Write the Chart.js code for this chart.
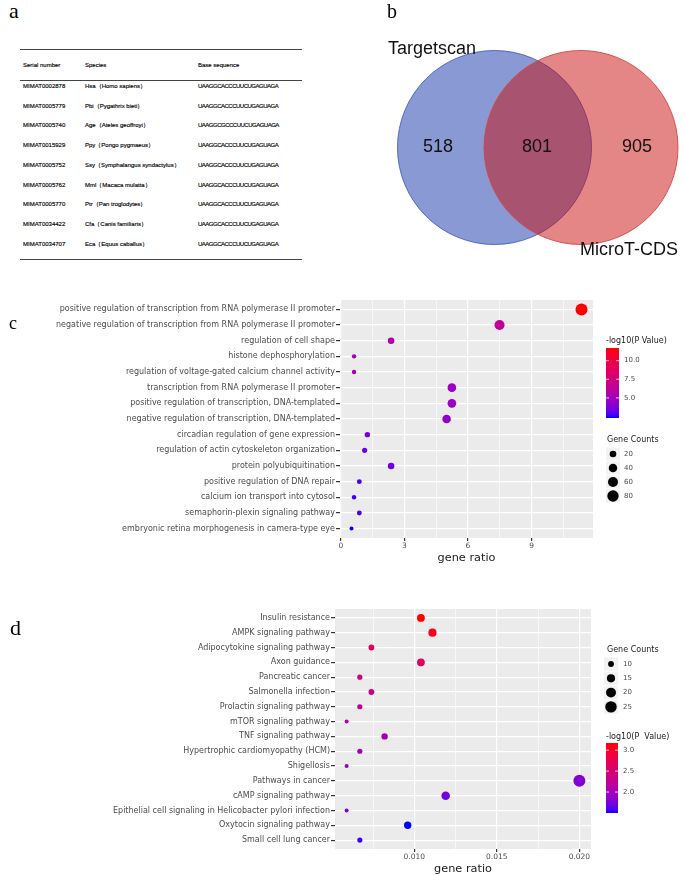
<!DOCTYPE html>
<html>
<head>
<meta charset="utf-8">
<title>miR target prediction and enrichment</title>
<script src="https://cdn.jsdelivr.net/npm/chart.js@4.4.1/dist/chart.umd.min.js"></script>
<style>
  html, body { margin: 0; padding: 0; background: #fff; }
  #page { position: relative; width: 685px; height: 876px; overflow: hidden; }
  canvas { position: absolute; }
  .tag { position: absolute; font-family: "Liberation Serif", serif; line-height: 1; color: #000; }
  .rule { position: absolute; left: 20px; width: 282px; height: 1.4px; background: #444; }
  .cell { position: absolute; font-family: "Liberation Sans", sans-serif; font-size: 6px; line-height: 8px; color: #000; white-space: nowrap; -webkit-text-stroke: 0.15px #000; }
  .cell.seq { letter-spacing: -0.5px; }
</style>
</head>
<body>
<div id="page">
  <div id="table"></div>
  <canvas id="venn" width="355" height="290" style="left:330px;top:0"></canvas>
  <canvas id="goChart" width="685" height="275" style="left:0;top:290px"></canvas>
  <canvas id="keggChart" width="685" height="276" style="left:0;top:600px"></canvas>
  <div class="tag" style="left:9px;top:0px;font-size:22px">a</div>
  <div class="tag" style="left:387px;top:1px;font-size:20px">b</div>
  <div class="tag" style="left:9px;top:314px;font-size:18px">c</div>
  <div class="tag" style="left:10px;top:617px;font-size:22px">d</div>
</div>
<script>
// ---- panel a: table ----
const tableHeader = ["Serial number", "Species", "Base sequence"];
const serialNumbers = ["MIMAT0002878", "MIMAT0005779", "MIMAT0005740", "MIMAT0015929", "MIMAT0005752",
  "MIMAT0005762", "MIMAT0005770", "MIMAT0034422", "MIMAT0034707"];
const speciesNames = ["Hsa（Homo sapiens）", "Pbi（Pygathrix bieti）", "Age（Ateles geoffroyi）",
  "Ppy（Pongo pygmaeus）", "Ssy（Symphalangus syndactylus）", "Mml（Macaca mulatta）",
  "Ptr（Pan troglodytes）", "Cfa（Canis familiaris）", "Eca（Equus caballus）"];
const baseSequences = ["UAAGGCACCCUUCUGAGUAGA", "UAAGGCACCCUUCUGAGUAGA", "UAAGGCGCCCUUCUGAGUAGA",
  "UAAGGCACCCUUCUGAGUAGA", "UAAGGCACCCUUCUGAGUAGA", "UAAGGCACCCUUCUGAGUAGA",
  "UAAGGCACCCUUCUGAGUAGA", "UAAGGCACCCUUCUGAGUAGA", "UAAGGCACCCUUCUGAGUAGA"];

// ---- panel b: venn ----
const vennSets = ["Targetscan", "MicroT-CDS"];
const vennCounts = [518, 801, 905]; // Targetscan only, both, MicroT-CDS only

// ---- panel c: GO biological process ----
const goTerms = [
  "positive regulation of transcription from RNA polymerase II promoter",
  "negative regulation of transcription from RNA polymerase II promoter",
  "regulation of cell shape",
  "histone dephosphorylation",
  "regulation of voltage-gated calcium channel activity",
  "transcription from RNA polymerase II promoter",
  "positive regulation of transcription, DNA-templated",
  "negative regulation of transcription, DNA-templated",
  "circadian regulation of gene expression",
  "regulation of actin cytoskeleton organization",
  "protein polyubiquitination",
  "positive regulation of DNA repair",
  "calcium ion transport into cytosol",
  "semaphorin-plexin signaling pathway",
  "embryonic retina morphogenesis in camera-type eye"
];
const goGeneRatio = [11.36, 7.49, 2.37, 0.62, 0.62, 5.24, 5.24, 4.99, 1.25, 1.12, 2.37, 0.87, 0.62, 0.87, 0.50];
const goGeneCounts = [91, 60, 19, 5, 5, 42, 42, 40, 10, 9, 19, 7, 5, 7, 4];
const goLogP = [11.7, 6.4, 5.4, 5.1, 5.1, 4.7, 4.7, 4.4, 3.5, 3.4, 3.5, 2.7, 2.6, 2.7, 2.3];
const goPBreaks = [5, 7.5, 10];
const goCountBreaks = [20, 40, 60, 80];

// ---- panel d: KEGG ----
const keggTerms = [
  "Insulin resistance",
  "AMPK signaling pathway",
  "Adipocytokine signaling pathway",
  "Axon guidance",
  "Pancreatic cancer",
  "Salmonella infection",
  "Prolactin signaling pathway",
  "mTOR signaling pathway",
  "TNF signaling pathway",
  "Hypertrophic cardiomyopathy (HCM)",
  "Shigellosis",
  "Pathways in cancer",
  "cAMP signaling pathway",
  "Epithelial cell signaling in Helicobacter pylori infection",
  "Oxytocin signaling pathway",
  "Small cell lung cancer"
];
const keggGeneRatio = [0.0104, 0.0111, 0.0074, 0.0104, 0.0067, 0.0074, 0.0067, 0.0059, 0.0082, 0.0067, 0.0059, 0.0200, 0.0119, 0.0059, 0.0096, 0.0067];
const keggGeneCounts = [14, 15, 10, 14, 9, 10, 9, 8, 11, 9, 8, 27, 16, 8, 13, 9];
const keggLogP = [3.17, 3.10, 2.68, 2.66, 2.42, 2.33, 2.22, 2.08, 2.00, 2.00, 1.85, 1.78, 1.72, 1.75, 1.50, 1.55];
const keggPBreaks = [2, 2.5, 3];
const keggCountBreaks = [10, 15, 20, 25];

Chart.defaults.font.family = '"DejaVu Sans", sans-serif';

// table (plain html)
const tbl = document.getElementById("table");
const colX = [23, 85, 198];
function cell(text, x, yMid, extra) {
  const d = document.createElement("div");
  d.className = "cell" + (extra ? " " + extra : "");
  d.textContent = text;
  d.style.left = x + "px";
  d.style.top = (yMid - 4) + "px";
  tbl.appendChild(d);
}
[49, 80, 258.5].forEach(y => {
  const r = document.createElement("div");
  r.className = "rule";
  r.style.top = y + "px";
  tbl.appendChild(r);
});
tableHeader.forEach((h, j) => cell(h, colX[j], 65));
serialNumbers.forEach((s, i) => {
  const y = 86 + i * 19.7;
  cell(s, colX[0], y);
  cell(speciesNames[i], colX[1], y);
  cell(baseSequences[i], colX[2], y, "seq");
});

// colour ramp blue -> red interpolated in CIELAB, like ggplot's gradient
function rgbToLab([r, g, b]) {
  const lin = c => { c /= 255; return c <= 0.04045 ? c / 12.92 : Math.pow((c + 0.055) / 1.055, 2.4); };
  const R = lin(r), G = lin(g), B = lin(b);
  const X = (0.4124 * R + 0.3576 * G + 0.1805 * B) / 0.95047;
  const Y = 0.2126 * R + 0.7152 * G + 0.0722 * B;
  const Z = (0.0193 * R + 0.1192 * G + 0.9505 * B) / 1.08883;
  const f = t => t > 0.008856 ? Math.cbrt(t) : 7.787 * t + 16 / 116;
  return [116 * f(Y) - 16, 500 * (f(X) - f(Y)), 200 * (f(Y) - f(Z))];
}
function labToRgb([L, a, b]) {
  const fy = (L + 16) / 116, fx = fy + a / 500, fz = fy - b / 200;
  const finv = t => t * t * t > 0.008856 ? t * t * t : (t - 16 / 116) / 7.787;
  const X = 0.95047 * finv(fx), Y = finv(fy), Z = 1.08883 * finv(fz);
  const R = 3.2406 * X - 1.5372 * Y - 0.4986 * Z;
  const G = -0.9689 * X + 1.8758 * Y + 0.0415 * Z;
  const B = 0.0557 * X - 0.2040 * Y + 1.0570 * Z;
  const gam = c => {
    c = Math.min(1, Math.max(0, c));
    return Math.round(255 * (c <= 0.0031308 ? 12.92 * c : 1.055 * Math.pow(c, 1 / 2.4) - 0.055));
  };
  return `rgb(${gam(R)},${gam(G)},${gam(B)})`;
}
const LAB_LOW = rgbToLab([0, 0, 255]);
const LAB_HIGH = rgbToLab([255, 0, 0]);
const labRamp = t => labToRgb(LAB_LOW.map((v, k) => v + (LAB_HIGH[k] - v) * t));

const panelBg = {
  id: "panelBg",
  beforeDraw(chart) {
    const { ctx, chartArea: a } = chart;
    ctx.save();
    ctx.fillStyle = "#ebebeb";
    ctx.fillRect(a.left, a.top, a.right - a.left, a.bottom - a.top);
    ctx.restore();
  }
};

// venn diagram
const vennGeom = { centers: [{ x: 164.5, y: 147.5 }, { x: 251, y: 147.5 }], radius: 97 };
const vennTextPos = {
  counts: [{ x: 108, y: 147 }, { x: 207, y: 147 }, { x: 307, y: 147 }],
  sets: [{ x: 58, y: 49 }, { x: 250, y: 250 }]
};
new Chart(document.getElementById("venn"), {
  type: "scatter",
  data: {
    datasets: [{
      data: vennGeom.centers,
      pointRadius: vennGeom.radius,
      pointBackgroundColor: ["rgba(18,52,168,0.5)", "rgba(202,14,14,0.5)"],
      pointBorderColor: ["rgba(70,95,200,0.9)", "rgba(215,70,70,0.9)"],
      pointBorderWidth: 1,
      clip: false
    }]
  },
  options: {
    responsive: false, animation: false, events: [],
    layout: { padding: 0, autoPadding: false },
    plugins: { legend: { display: false }, tooltip: { enabled: false } },
    scales: {
      x: { display: false, min: 0, max: 355 },
      y: { display: false, min: 0, max: 290, reverse: true }
    }
  },
  plugins: [{
    id: "vennText",
    afterDatasetsDraw(chart) {
      const { ctx, scales: { x, y } } = chart;
      ctx.save();
      ctx.fillStyle = "#111";
      ctx.textBaseline = "middle";
      ctx.font = '18px "Liberation Sans"';
      ctx.textAlign = "center";
      vennCounts.forEach((v, i) => {
        const p = vennTextPos.counts[i];
        ctx.fillText(String(v), x.getPixelForValue(p.x), y.getPixelForValue(p.y));
      });
      ctx.textAlign = "left";
      vennSets.forEach((s, i) => {
        const p = vennTextPos.sets[i];
        ctx.fillText(s, x.getPixelForValue(p.x), y.getPixelForValue(p.y));
      });
      ctx.restore();
    }
  }]
});

// ggplot style dot plot
function dotPlot(id, o) {
  const n = o.terms.length;
  const rLo = Math.min(...o.ratio), rHi = Math.max(...o.ratio), pad = (rHi - rLo) * 0.05;
  const pLo = Math.min(...o.logP), pHi = Math.max(...o.logP);
  const cLo = Math.min(...o.counts), cHi = Math.max(...o.counts);
  const colorOf = v => labRamp((v - pLo) / (pHi - pLo));
  const radiusOf = c => 2 + 4 * Math.pow(Math.max(0, (c - cLo) / (cHi - cLo)), 0.65);
  const isMajor = v => v != null && Math.abs(v / o.major - Math.round(v / o.major)) < 1e-6;

  const legend = {
    id: "ggLegend",
    afterDraw(chart) {
      const ctx = chart.ctx;
      ctx.save();
      ctx.textBaseline = "middle";
      ctx.textAlign = "left";
      // colour bar
      const cb = o.colorbar;
      ctx.font = '8px "DejaVu Sans"';
      ctx.fillStyle = "#1a1a1a";
      ctx.fillText(cb.title, cb.x, cb.titleY);
      const grad = ctx.createLinearGradient(0, cb.top + cb.h, 0, cb.top);
      for (let i = 0; i <= 20; i++) grad.addColorStop(i / 20, colorOf(pLo + (pHi - pLo) * i / 20));
      ctx.fillStyle = grad;
      ctx.fillRect(cb.x, cb.top, cb.w, cb.h);
      ctx.font = '7px "DejaVu Sans"';
      o.pBreaks.forEach(v => {
        const yy = cb.top + (pHi - v) / (pHi - pLo) * cb.h;
        ctx.strokeStyle = "#fff";
        ctx.lineWidth = 0.8;
        ctx.beginPath();
        ctx.moveTo(cb.x, yy); ctx.lineTo(cb.x + 3, yy);
        ctx.moveTo(cb.x + cb.w - 3, yy); ctx.lineTo(cb.x + cb.w, yy);
        ctx.stroke();
        ctx.fillStyle = "#4d4d4d";
        ctx.fillText(v.toFixed(1), cb.labelX, yy);
      });
      // point size keys
      const sz = o.sizes;
      ctx.font = '8px "DejaVu Sans"';
      ctx.fillStyle = "#1a1a1a";
      ctx.fillText("Gene Counts", sz.x, sz.titleY);
      ctx.font = '7px "DejaVu Sans"';
      o.countBreaks.forEach((c, i) => {
        const yy = sz.firstY + i * sz.step;
        ctx.fillStyle = "#f2f2f2";
        ctx.fillRect(sz.keyX - 7, yy - sz.step / 2 + 0.5, 14, sz.step - 1);
        ctx.fillStyle = "#000";
        ctx.beginPath();
        ctx.arc(sz.keyX, yy, radiusOf(c), 0, Math.PI * 2);
        ctx.fill();
        ctx.fillStyle = "#4d4d4d";
        ctx.fillText(String(c), sz.labelX, yy);
      });
      ctx.restore();
    }
  };

  return new Chart(document.getElementById(id), {
    type: "scatter",
    data: {
      datasets: [{
        data: o.ratio.map((x, i) => ({ x, y: i })),
        pointRadius: c => radiusOf(o.counts[c.dataIndex]),
        pointBackgroundColor: c => colorOf(o.logP[c.dataIndex]),
        pointBorderWidth: 0
      }]
    },
    options: {
      responsive: false, animation: false, events: [],
      layout: { padding: o.padding, autoPadding: false },
      plugins: { legend: { display: false }, tooltip: { enabled: false } },
      scales: {
        x: {
          type: "linear", min: rLo - pad, max: rHi + pad,
          border: { display: false },
          grid: {
            color: "#fff",
            lineWidth: c => isMajor(c.tick && c.tick.value) ? 1.2 : 0.6,
            tickColor: c => isMajor(c.tick && c.tick.value) ? "#333" : "rgba(0,0,0,0)",
            tickLength: 3
          },
          ticks: {
            stepSize: o.minor, includeBounds: false, autoSkip: false, maxRotation: 0,
            padding: 1, color: "#4d4d4d", font: { size: 7.5 },
            callback: v => isMajor(v) ? o.fmt(v) : ""
          },
          title: { display: true, text: "gene ratio", color: "#1a1a1a", font: { size: 11.3 }, padding: 0 },
          afterFit: s => { s.height = o.xAxisHeight; }
        },
        y: {
          type: "linear", reverse: true, min: -0.6, max: n - 0.4,
          border: { display: false },
          grid: { color: "#fff", lineWidth: 1.2, tickColor: "#333", tickLength: 4 },
          ticks: {
            stepSize: 1, includeBounds: false, autoSkip: false,
            padding: 1, color: "#4d4d4d", font: { size: 8 },
            callback: v => o.terms[v] !== undefined ? o.terms[v] : ""
          },
          afterFit: s => { s.width = o.yAxisWidth; }
        }
      }
    },
    plugins: [panelBg, legend]
  });
}

dotPlot("goChart", {
  terms: goTerms, ratio: goGeneRatio, counts: goGeneCounts, logP: goLogP,
  pBreaks: goPBreaks, countBreaks: goCountBreaks,
  minor: 1.5, major: 3, fmt: v => String(v),
  yAxisWidth: 340, xAxisHeight: 27,
  padding: { left: 0, top: 10, right: 92, bottom: 0 },
  colorbar: { title: "-log10(P Value)", x: 606, titleY: 51, top: 58, w: 13, h: 70, labelX: 624 },
  sizes: { x: 607, titleY: 150, keyX: 613, firstY: 164, step: 14, labelX: 624 }
});

dotPlot("keggChart", {
  terms: keggTerms, ratio: keggGeneRatio, counts: keggGeneCounts, logP: keggLogP,
  pBreaks: keggPBreaks, countBreaks: keggCountBreaks,
  minor: 0.0025, major: 0.005, fmt: v => v.toFixed(3),
  yAxisWidth: 335, xAxisHeight: 27,
  padding: { left: 0, top: 9, right: 94, bottom: 0 },
  colorbar: { title: "-log10(P  Value)", x: 606, titleY: 137, top: 143, w: 12, h: 70, labelX: 623 },
  sizes: { x: 607, titleY: 50, keyX: 611, firstY: 64, step: 14.3, labelX: 623 }
});
</script>
</body>
</html>
